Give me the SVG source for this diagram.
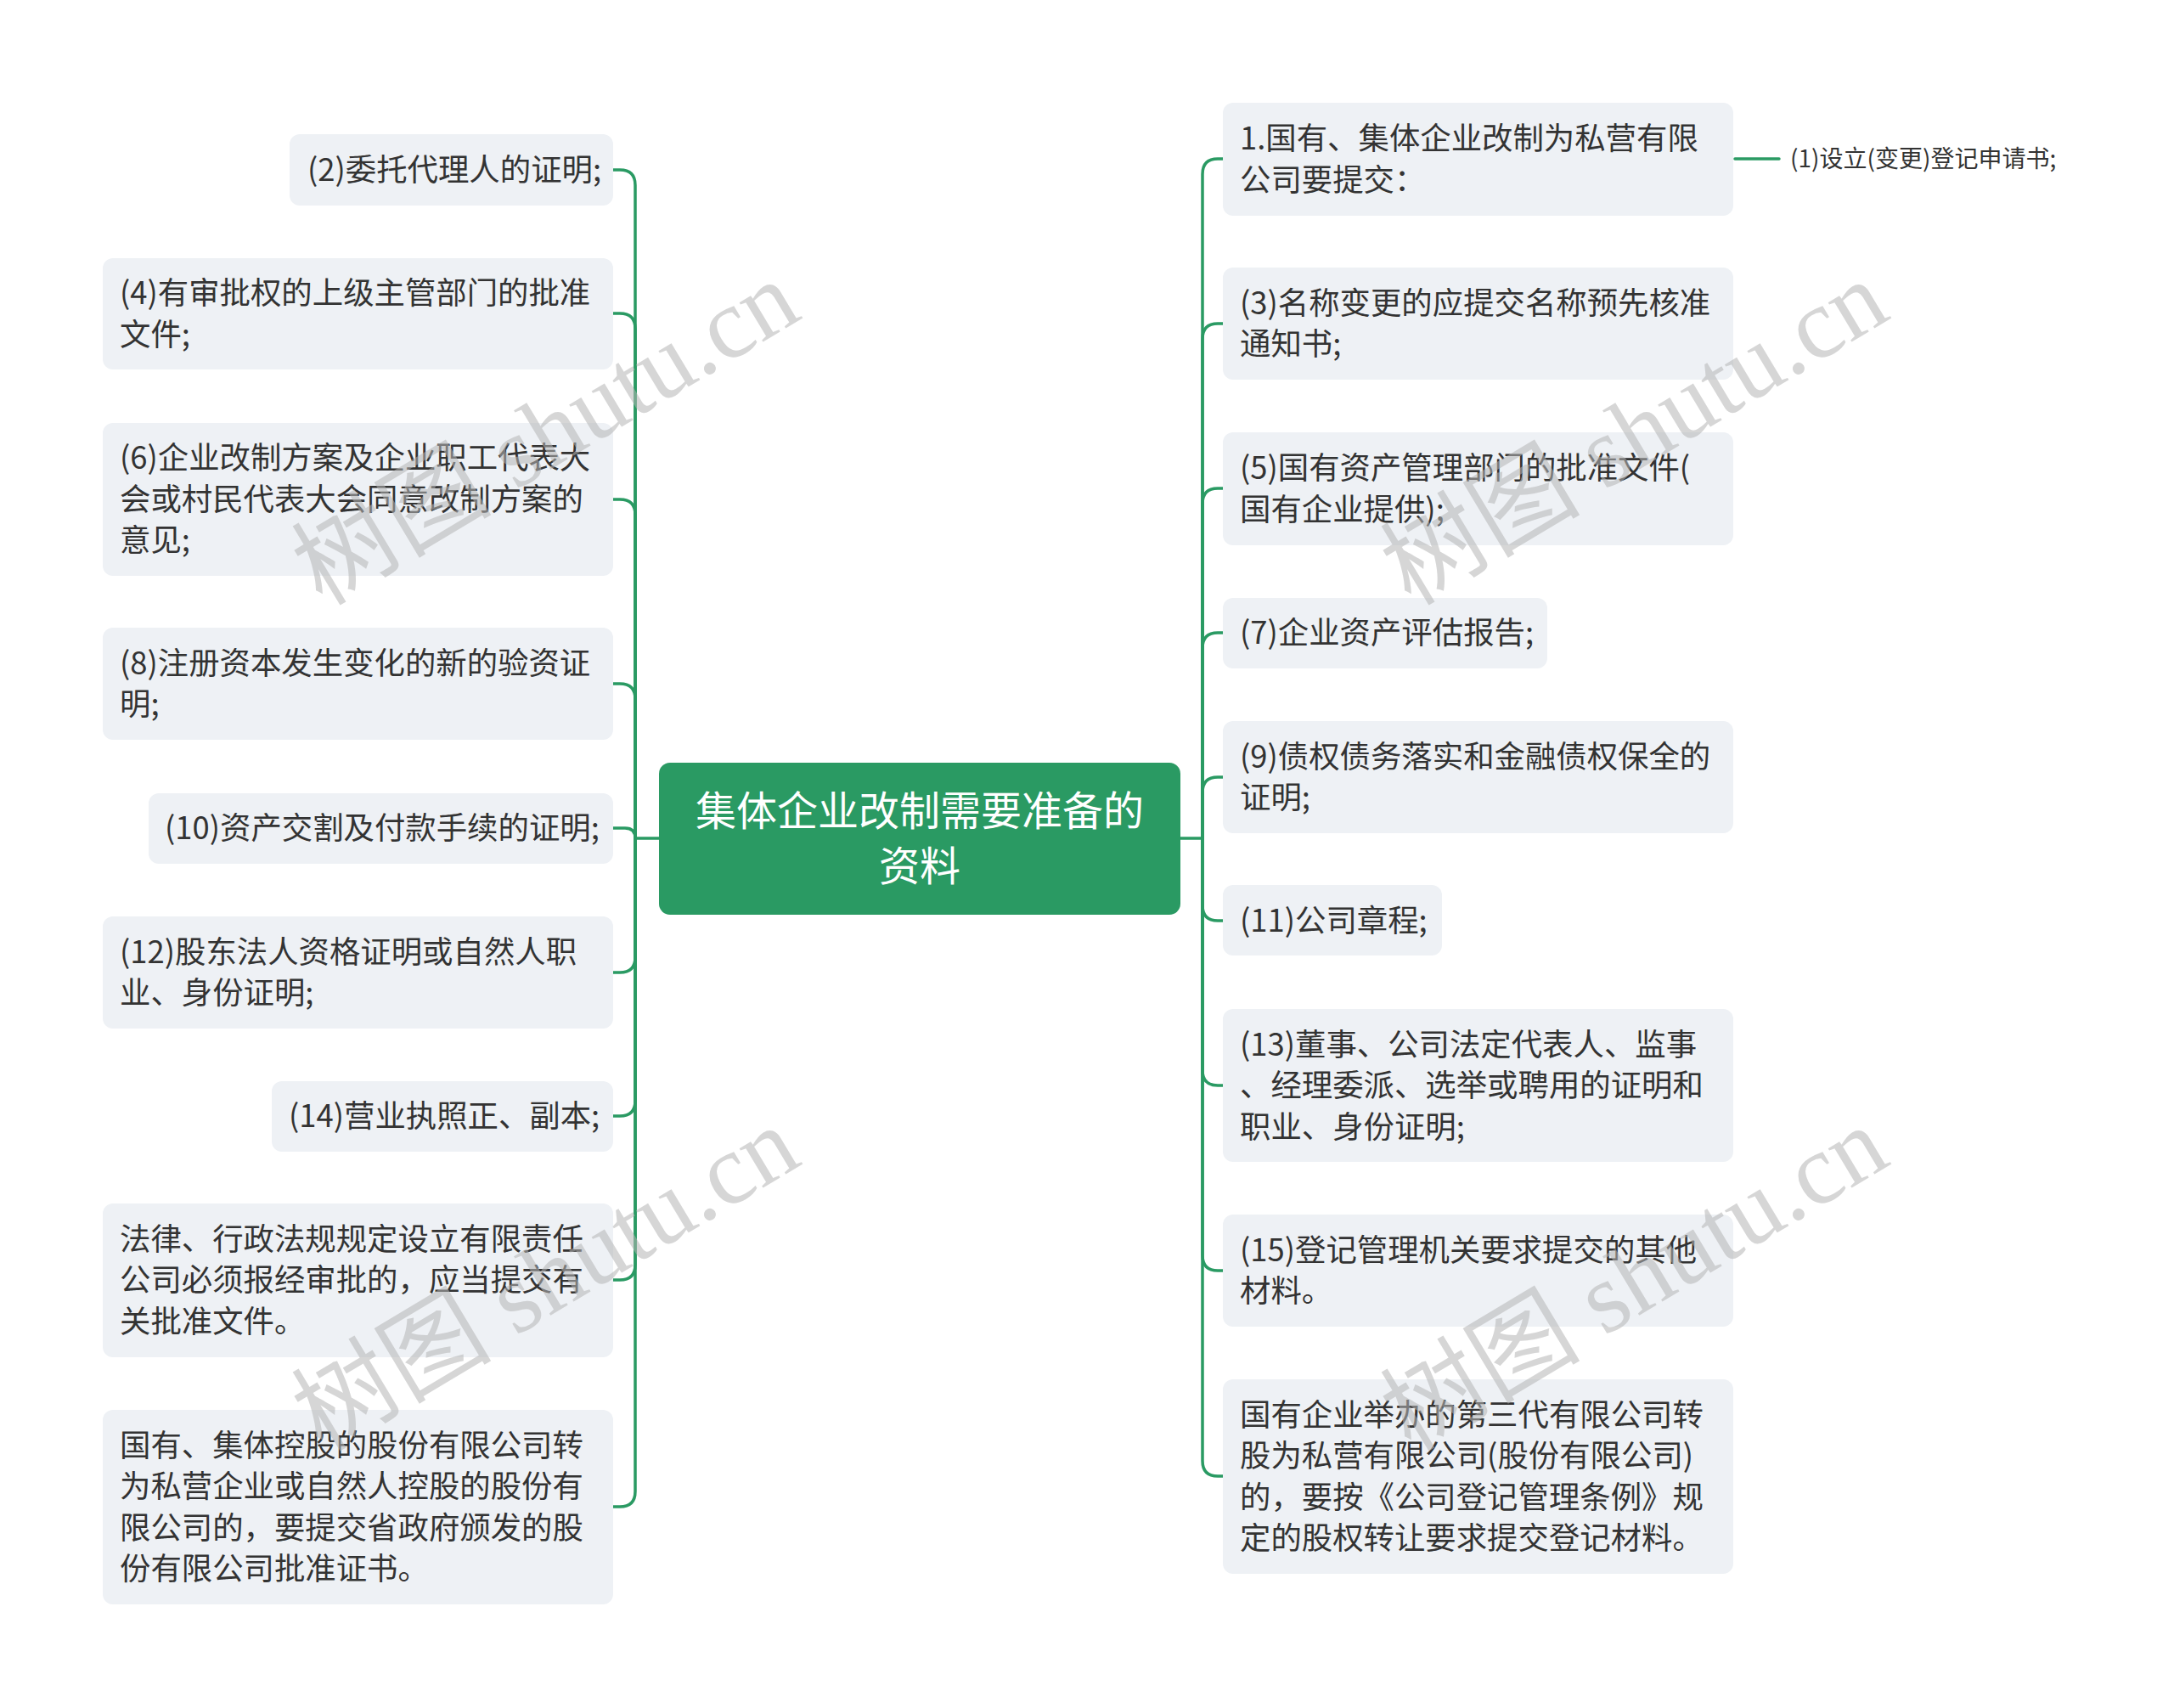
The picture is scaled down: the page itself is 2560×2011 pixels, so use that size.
<svg xmlns="http://www.w3.org/2000/svg" width="2560" height="2011" viewBox="0 0 2560 2011">
<style>
.box{fill:#eef1f5;}
.t{font-family:"Noto Sans CJK SC","Noto Sans",sans-serif;font-size:36.4px;fill:#333333;}
.ct{font-family:"Noto Sans CJK SC","Noto Sans",sans-serif;font-size:48px;fill:#ffffff;text-anchor:middle;}
.st{font-family:"Noto Sans CJK SC","Noto Sans",sans-serif;font-size:28px;fill:#333333;}
.c{fill:none;stroke:#2a9a63;stroke-width:3.5;stroke-linecap:round;stroke-linejoin:round;}
.wm{font-family:"Liberation Serif","Noto Sans CJK SC",serif;font-size:118px;fill:#b4b4b4;fill-opacity:0.55;text-anchor:middle;}
</style>
<rect width="2560" height="2011" fill="#ffffff"/>
<g id="connectors">
<path class="c" d="M776 987 H748 V218 Q748 200 730 200 H722"/>
<path class="c" d="M748 987 V387 Q748 369 730 369 H722"/>
<path class="c" d="M748 987 V606 Q748 588 730 588 H722"/>
<path class="c" d="M748 987 V823 Q748 805 730 805 H722"/>
<path class="c" d="M748 987 Q748 975 736 975 H722"/>
<path class="c" d="M748 987 V1127 Q748 1145 730 1145 H722"/>
<path class="c" d="M748 987 V1296 Q748 1314 730 1314 H722"/>
<path class="c" d="M748 987 V1489 Q748 1507 730 1507 H722"/>
<path class="c" d="M748 987 V1756 Q748 1774 730 1774 H722"/>
<path class="c" d="M1390 987 H1416 V205 Q1416 187 1434 187 H1440"/>
<path class="c" d="M1416 987 V399 Q1416 381 1434 381 H1440"/>
<path class="c" d="M1416 987 V593 Q1416 575 1434 575 H1440"/>
<path class="c" d="M1416 987 V763 Q1416 745 1434 745 H1440"/>
<path class="c" d="M1416 987 V933 Q1416 915 1434 915 H1440"/>
<path class="c" d="M1416 987 V1066 Q1416 1084 1434 1084 H1440"/>
<path class="c" d="M1416 987 V1260 Q1416 1278 1434 1278 H1440"/>
<path class="c" d="M1416 987 V1478 Q1416 1496 1434 1496 H1440"/>
<path class="c" d="M1416 987 V1720 Q1416 1738 1434 1738 H1440"/>
<path class="c" d="M2043 187 H2095"/>
</g>
<g id="center">
<rect x="776" y="898" width="614" height="179" rx="13" fill="#2a9a63"/>
<text class="ct" x="1083" y="972">集体企业改制需要准备的</text>
<text class="ct" x="1083" y="1037">资料</text>
</g>
<g id="l1"><rect class="box" x="341" y="158" width="381" height="84" rx="12"/><text class="t" x="362" y="213">(2)委托代理人的证明;</text></g>
<g id="l2"><rect class="box" x="121" y="304" width="601" height="131" rx="12"/><text class="t" x="141" y="358">(4)有审批权的上级主管部门的批准</text><text class="t" x="141" y="407">文件;</text></g>
<g id="l3"><rect class="box" x="121" y="498" width="601" height="180" rx="12"/><text class="t" x="141" y="552">(6)企业改制方案及企业职工代表大</text><text class="t" x="141" y="601">会或村民代表大会同意改制方案的</text><text class="t" x="141" y="649">意见;</text></g>
<g id="l4"><rect class="box" x="121" y="739" width="601" height="132" rx="12"/><text class="t" x="141" y="794">(8)注册资本发生变化的新的验资证</text><text class="t" x="141" y="842">明;</text></g>
<g id="l5"><rect class="box" x="175" y="934" width="547" height="83" rx="12"/><text class="t" x="194" y="988">(10)资产交割及付款手续的证明;</text></g>
<g id="l6"><rect class="box" x="121" y="1079" width="601" height="132" rx="12"/><text class="t" x="141" y="1134">(12)股东法人资格证明或自然人职</text><text class="t" x="141" y="1182">业、身份证明;</text></g>
<g id="l7"><rect class="box" x="320" y="1273" width="402" height="83" rx="12"/><text class="t" x="340" y="1327">(14)营业执照正、副本;</text></g>
<g id="l8"><rect class="box" x="121" y="1417" width="601" height="181" rx="12"/><text class="t" x="141" y="1472">法律、行政法规规定设立有限责任</text><text class="t" x="141" y="1520">公司必须报经审批的，应当提交有</text><text class="t" x="141" y="1569">关批准文件。</text></g>
<g id="l9"><rect class="box" x="121" y="1660" width="601" height="229" rx="12"/><text class="t" x="141" y="1715">国有、集体控股的股份有限公司转</text><text class="t" x="141" y="1763">为私营企业或自然人控股的股份有</text><text class="t" x="141" y="1812">限公司的，要提交省政府颁发的股</text><text class="t" x="141" y="1860">份有限公司批准证书。</text></g>
<g id="r1"><rect class="box" x="1440" y="121" width="601" height="133" rx="12"/><text class="t" x="1460" y="176">1.国有、集体企业改制为私营有限</text><text class="t" x="1460" y="225">公司要提交：</text></g>
<g id="r1c"><text class="st" x="2108" y="197">(1)设立(变更)登记申请书;</text></g>
<g id="r2"><rect class="box" x="1440" y="315" width="601" height="132" rx="12"/><text class="t" x="1460" y="370">(3)名称变更的应提交名称预先核准</text><text class="t" x="1460" y="418">通知书;</text></g>
<g id="r3"><rect class="box" x="1440" y="509" width="601" height="133" rx="12"/><text class="t" x="1460" y="564">(5)国有资产管理部门的批准文件(</text><text class="t" x="1460" y="613">国有企业提供);</text></g>
<g id="r4"><rect class="box" x="1440" y="704" width="382" height="83" rx="12"/><text class="t" x="1460" y="758">(7)企业资产评估报告;</text></g>
<g id="r5"><rect class="box" x="1440" y="849" width="601" height="132" rx="12"/><text class="t" x="1460" y="904">(9)债权债务落实和金融债权保全的</text><text class="t" x="1460" y="952">证明;</text></g>
<g id="r6"><rect class="box" x="1440" y="1042" width="258" height="83" rx="12"/><text class="t" x="1460" y="1097">(11)公司章程;</text></g>
<g id="r7"><rect class="box" x="1440" y="1188" width="601" height="180" rx="12"/><text class="t" x="1460" y="1243">(13)董事、公司法定代表人、监事</text><text class="t" x="1460" y="1291">、经理委派、选举或聘用的证明和</text><text class="t" x="1460" y="1340">职业、身份证明;</text></g>
<g id="r8"><rect class="box" x="1440" y="1430" width="601" height="132" rx="12"/><text class="t" x="1460" y="1485">(15)登记管理机关要求提交的其他</text><text class="t" x="1460" y="1533">材料。</text></g>
<g id="r9"><rect class="box" x="1440" y="1624" width="601" height="229" rx="12"/><text class="t" x="1460" y="1679">国有企业举办的第三代有限公司转</text><text class="t" x="1460" y="1727">股为私营有限公司(股份有限公司)</text><text class="t" x="1460" y="1776">的，要按《公司登记管理条例》规</text><text class="t" x="1460" y="1824">定的股权转让要求提交登记材料。</text></g>
<g id="watermarks">
<text class="wm" transform="translate(663,544) rotate(-31)">树图 shutu.cn</text>
<text class="wm" transform="translate(1945,544) rotate(-31)">树图 shutu.cn</text>
<text class="wm" transform="translate(663,1540) rotate(-31)">树图 shutu.cn</text>
<text class="wm" transform="translate(1945,1540) rotate(-31)">树图 shutu.cn</text>
</g>
</svg>
